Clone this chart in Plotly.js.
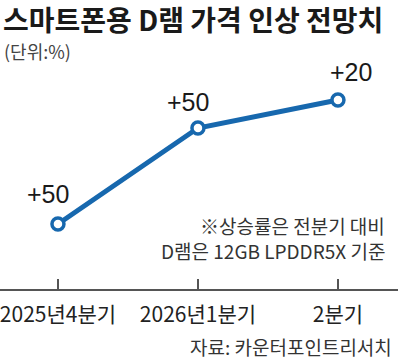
<!DOCTYPE html>
<html><head><meta charset="utf-8">
<script src="https://cdn.plot.ly/plotly-3.0.1.min.js"></script>
<style>html,body{margin:0;padding:0;background:#fff;}#chart{width:406px;height:360px;}</style>
</head><body><div id="chart"></div>
<script>
const categories = ['2025년4분기', '2026년1분기', '2분기'];
const levels = [28.4, 70.3, 82.5];
const changeLabels = ['+50', '+50', '+20'];
const titleText = '스마트폰용 D램 가격 인상 전망치';
const unitText = '(단위:%)';
const noteLines = ['※상승률은 전분기 대비', 'D램은 12GB LPDDR5X 기준'];
const sourceText = '자료: 카운터포인트리서치';

const KR = '"Noto Sans CJK KR", "Noto Sans", sans-serif';
const NUM = '"Liberation Sans Narrow", "Arial Narrow", "Liberation Sans", sans-serif';
const blue = '#1768ae';
const PW = 398, PH = 229, PT = 60;

const trace = {
  x: categories, y: levels, type: 'scatter', mode: 'lines+markers',
  line: {color: blue, width: 5},
  marker: {size: 12, color: '#fff', line: {color: blue, width: 3.5}},
  hoverinfo: 'none', cliponaxis: false
};

const labelOffsets = [[-10, -30], [-10, -26], [13, -28]];
const annotations = categories.map((c, i) => ({
  x: c, y: levels[i], xref: 'x', yref: 'y', text: changeLabels[i], showarrow: false,
  xshift: labelOffsets[i][0], yshift: -labelOffsets[i][1],
  font: {family: NUM, size: 25, color: '#1a1a1a'}
}));
function pa(text, px, py, anchor, size, color) {
  return {xref: 'paper', yref: 'paper', x: px / PW, y: 1 - (py - PT) / PH, xanchor: anchor, yanchor: 'middle',
          text: text, showarrow: false, font: {family: KR, size: size, color: color}};
}
annotations.push(pa('<b>' + titleText + '</b>', 1, 19, 'left', 28, '#1a1a1a'));
annotations.push(pa(noteLines[0], 387, 225, 'right', 19, '#333'));
annotations.push(pa(noteLines[1], 387, 250, 'right', 19, '#333'));
annotations.push(pa(sourceText, 394, 346, 'right', 19, '#333'));
annotations.push(pa(unitText, 2, 51, 'left', 18, '#444'));

const layout = {
  width: 406, height: 360,
  margin: {l: 0, r: 8, t: 60, b: 71},
  paper_bgcolor: '#fff', plot_bgcolor: '#fff',
  showlegend: false,
  xaxis: {
    type: 'category', range: [-0.414, 2.429],
    showgrid: false, zeroline: false, showline: true, linecolor: '#555', linewidth: 1.5,
    ticks: 'inside', ticklen: 10, tickwidth: 1.5, tickcolor: '#555', ticklabelstandoff: 6,
    tickfont: {family: KR, size: 21, color: '#222'}, fixedrange: true
  },
  yaxis: {range: [0, 100], visible: false, fixedrange: true},
  annotations: annotations
};

Plotly.newPlot('chart', [trace], layout, {displayModeBar: false, staticPlot: true});
</script></body></html>
